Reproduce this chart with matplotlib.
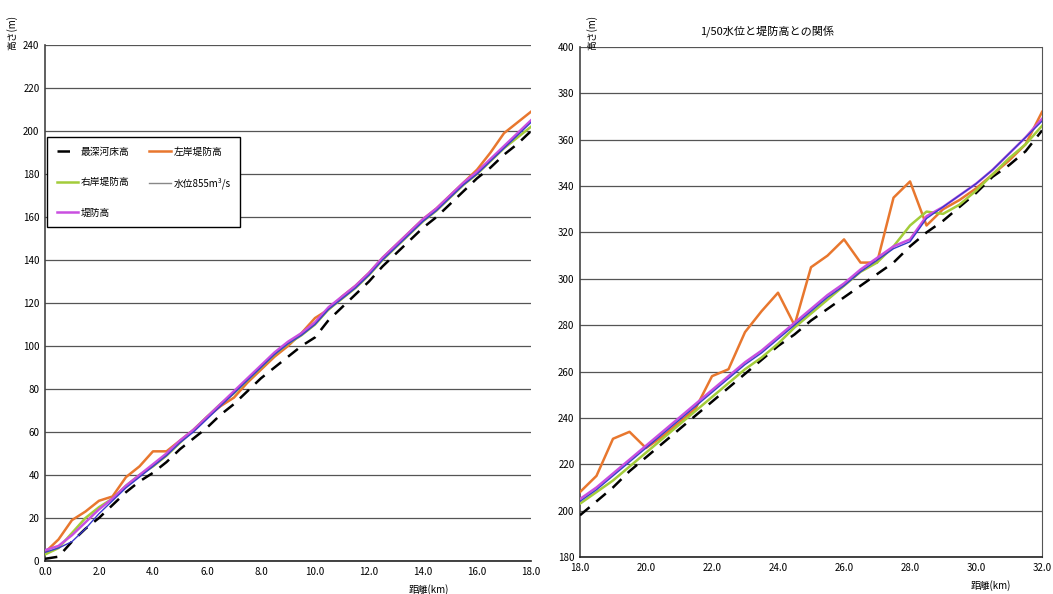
import matplotlib
matplotlib.use("Agg")
import matplotlib.pyplot as plt
import numpy as np

plt.rcParams['font.family'] = ['Noto Sans CJK JP', 'DejaVu Sans']

# ---------------- data ----------------
x_left = [0.0, 0.5, 1.0, 1.5, 2.0, 2.5, 3.0, 3.5, 4.0, 4.5, 5.0, 5.5, 6.0, 6.5, 7.0, 7.5, 8.0, 8.5,
          9.0, 9.5, 10.0, 10.5, 11.0, 11.5, 12.0, 12.5, 13.0, 13.5, 14.0, 14.5, 15.0, 15.5, 16.0,
          16.5, 17.0, 17.5, 18.0]
bed_left = [1, 2, 9, 15, 20, 26, 32, 37, 41, 46, 52, 57, 62, 68, 73, 79, 85, 90, 95, 100, 104,
            112, 118, 124, 130, 137, 143, 149, 155, 160, 166, 172, 178, 183, 189, 194, 200]
lbank_left = [4, 10, 19, 23, 28, 30, 39, 44, 51, 51, 56, 61, 67, 72, 76, 83, 89, 95, 100, 106, 113,
              117, 123, 128, 134, 141, 147, 153, 159, 164, 170, 176, 182, 190, 199, 204, 209]
rbank_left = [3, 6, 13, 20, 25, 29, 35, 40, 44, 49, 55, 61, 67, 73, 78, 84, 90, 96, 101, 105, 110,
              117, 122, 127, 133, 140, 146, 152, 158, 163, 169, 175, 180, 186, 192, 197, 202]
water_left = [4, 6, 9, 15, 22, 28, 34, 39, 44, 49, 55, 60, 66, 72, 78, 84, 90, 96, 101, 105, 110,
              117, 122, 127, 133, 140, 146, 152, 158, 163, 169, 175, 180, 186, 192, 198, 204]
dike_left = [5, 7, 12, 18, 24, 29, 35, 40, 45, 50, 56, 61, 67, 73, 79, 85, 91, 97, 102, 106, 111,
             118, 123, 128, 134, 141, 147, 153, 159, 164, 170, 176, 181, 187, 193, 199, 205]

x_right = [18.0, 18.5, 19.0, 19.5, 20.0, 20.5, 21.0, 21.5, 22.0, 22.5, 23.0, 23.5, 24.0, 24.5,
           25.0, 25.5, 26.0, 26.5, 27.0, 27.5, 28.0, 28.5, 29.0, 29.5, 30.0, 30.5, 31.0, 31.5, 32.0]
bed_right = [198, 204, 210, 217, 223, 229, 235, 241, 247, 253, 259, 265, 271, 276, 282, 287, 292,
             297, 302, 307, 314, 320, 325, 331, 337, 344, 349, 355, 364]
lbank_right = [208, 215, 231, 234, 227, 232, 238, 244, 258, 261, 277, 286, 294, 280, 305, 310, 317,
               307, 307, 335, 342, 323, 330, 334, 339, 345, 351, 358, 372]
rbank_right = [203, 208, 213, 219, 225, 231, 237, 243, 249, 255, 261, 266, 272, 279, 285, 291, 297,
               303, 307, 314, 323, 329, 328, 332, 338, 345, 352, 358, 366]
water_right = [204, 209, 215, 221, 227, 233, 239, 245, 251, 257, 263, 268, 274, 280, 286, 292, 297,
               303, 308, 313, 316, 326, 331, 336, 341, 347, 354, 361, 368]
dike_right = [205, 210, 216, 222, 228, 234, 240, 246, 252, 258, 264, 269, 275, 281, 287, 293, 298,
              304, 309, 314, 317, 327, 331, 336, 341, 347, 354, 361, 369]

labels = ['最深河床高', '左岸堤防高', '右岸堤防高', '水位855m³/s', '堤防高']
xticks_left = [0, 2, 4, 6, 8, 10, 12, 14, 16, 18]
yticks_left = list(range(0, 241, 20))
xticks_right = [18, 20, 22, 24, 26, 28, 30, 32]
yticks_right = list(range(180, 401, 20))
title_right = '1/50水位と堤防高との関係'
xlabel = '距離(km)'
ylabel = '高さ(m)'

# ---------------- styles ----------------
c_bed = 'black'
c_l = '#E8772E'
c_r = '#A3CC3A'
c_w = '#3A3ACC'
c_d = '#C94FE0'

fig = plt.figure(figsize=(10.53, 5.94), dpi=100)
axL = fig.add_axes([0.0427, 0.0556, 0.4616, 0.8686])
axR = fig.add_axes([0.5508, 0.0623, 0.4388, 0.8586])


def draw(ax, x, bed, lb, rb, wl, dk):
    h = []
    h.append(ax.plot(x, bed, color=c_bed, lw=1.8, dashes=(5, 3.5), zorder=3)[0])
    h.append(ax.plot(x, lb, color=c_l, lw=1.8, zorder=4)[0])
    h.append(ax.plot(x, rb, color=c_r, lw=1.8, zorder=4)[0])
    h.append(ax.plot(x, wl, color=c_w, lw=1.0, zorder=5)[0])
    h.append(ax.plot(x, dk, color=c_d, lw=1.8, zorder=4)[0])
    return h


hL = draw(axL, x_left, bed_left, lbank_left, rbank_left, water_left, dike_left)
hR = draw(axR, x_right, bed_right, lbank_right, rbank_right, water_right, dike_right)

for ax, xt, yt in ((axL, xticks_left, yticks_left), (axR, xticks_right, yticks_right)):
    ax.set_xlim(xt[0], xt[-1])
    ax.set_ylim(yt[0], yt[-1])
    ax.set_xticks(xt)
    ax.set_xticklabels([f'{v:.1f}' for v in xt])
    ax.set_yticks(yt)
    ax.set_yticklabels([str(v) for v in yt])
    ax.yaxis.grid(True, color='#555555', lw=0.9)
    ax.set_axisbelow(True)
    ax.tick_params(axis='both', length=0, labelsize=7, pad=4)
    ax.spines['top'].set_visible(False)
    ax.spines['left'].set_color('#444444')
    ax.spines['bottom'].set_color('#222222')
    ax.spines['left'].set_linewidth(1.2)
    ax.spines['bottom'].set_linewidth(1.2)

axL.spines['right'].set_visible(False)
axR.spines['right'].set_color('#555555')

# axis labels
axL.text(0.79, -0.055, xlabel, transform=axL.transAxes, fontsize=7, ha='center', va='center')
axR.text(0.89, -0.055, xlabel, transform=axR.transAxes, fontsize=7, ha='center', va='center')
fig.text(0.011, 0.975, ylabel, rotation=90, fontsize=7, ha='center', va='top')
fig.text(0.562, 0.975, ylabel, rotation=90, fontsize=7, ha='center', va='top')
fig.text(0.728, 0.948, title_right, fontsize=8, ha='center', va='center')

# legend (row-major order like the reference)
order = [0, 2, 4, 1, 3]
leg = axL.legend([hL[i] for i in order], [labels[i] for i in order], ncol=2,
                 loc='upper left', bbox_to_anchor=(0.004, 0.822), fontsize=7,
                 frameon=True, fancybox=False, edgecolor='black', framealpha=1,
                 handlelength=2.2, labelspacing=2.1, columnspacing=2.0,
                 borderpad=1.0, handletextpad=0.3, borderaxespad=0.0)
leg.get_frame().set_linewidth(1.0)
leg.legend_handles[4].set_color('#888888')

fig.savefig('out.png', dpi=100)
